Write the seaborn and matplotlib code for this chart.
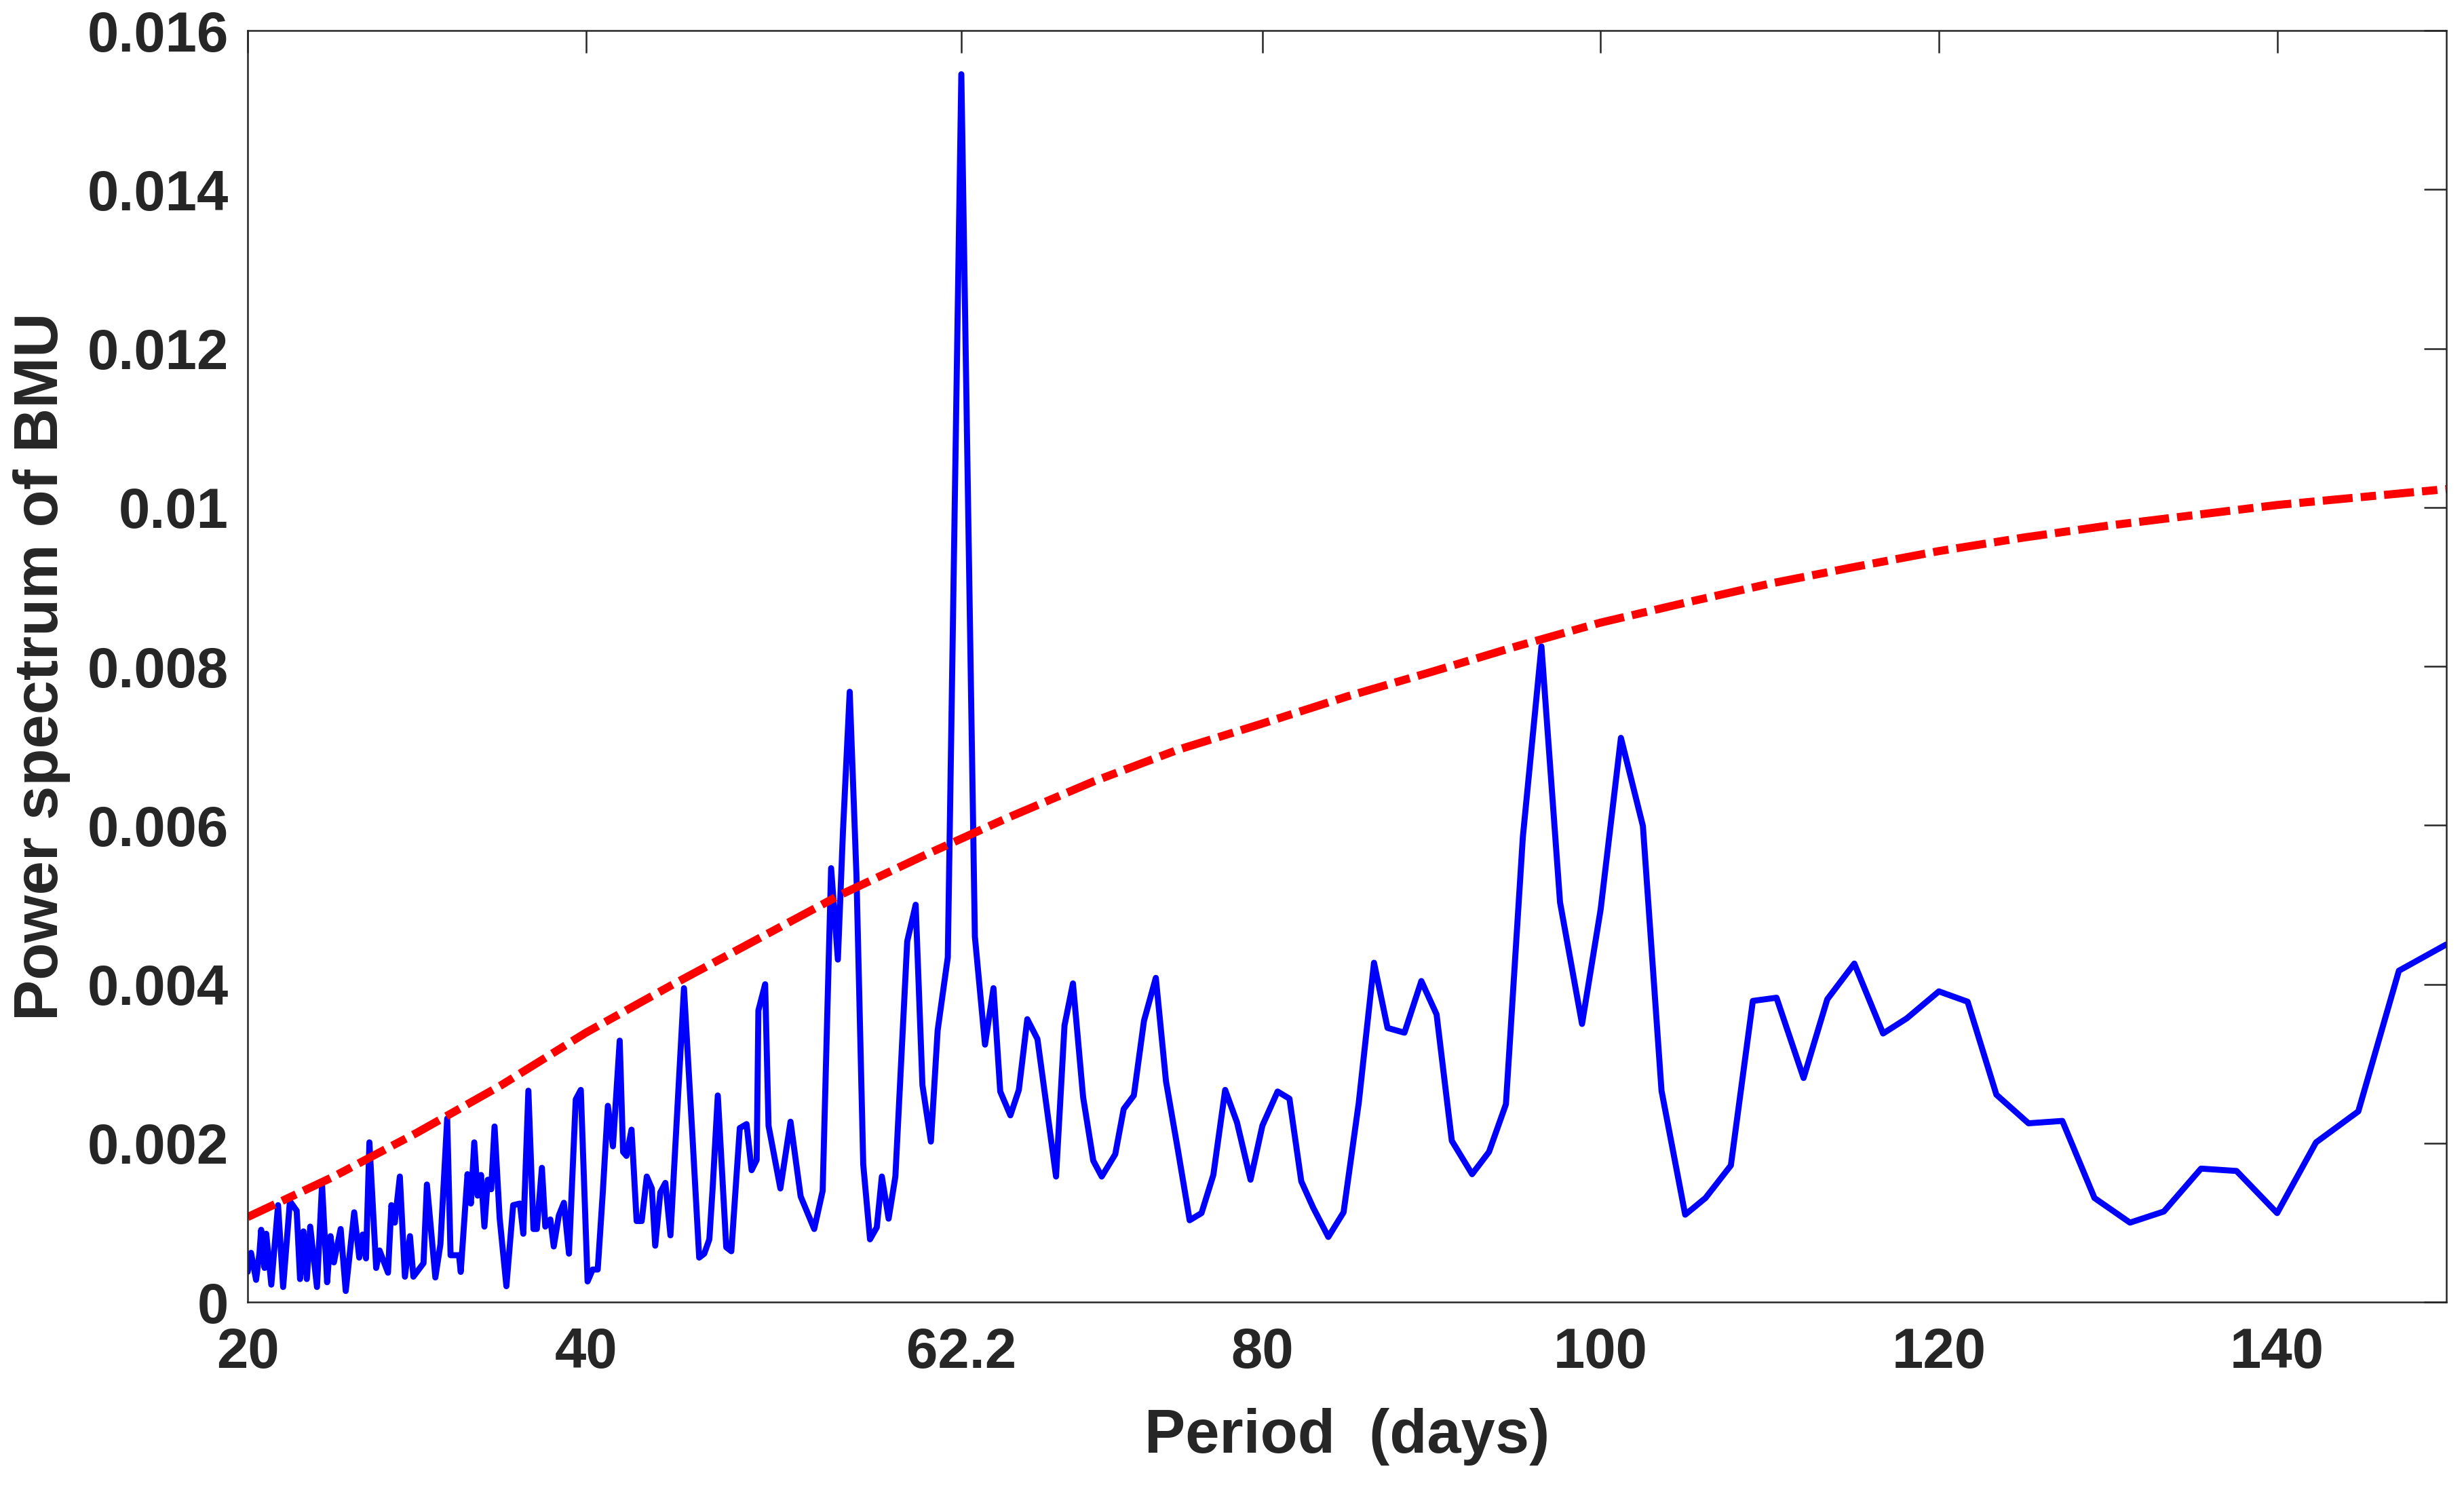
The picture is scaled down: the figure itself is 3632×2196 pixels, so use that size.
import numpy as np
import pandas as pd
import matplotlib
matplotlib.use("Agg")
import matplotlib.pyplot as plt
from matplotlib.ticker import FuncFormatter
import seaborn as sns

# periodogram of BMU (period in days, power in 1e-3)
period = [
    20.0, 20.2, 20.5, 20.7, 20.8, 21.0, 21.1, 21.4, 21.8, 22.1, 22.5, 22.9,
    23.1, 23.3, 23.5, 23.7, 24.1, 24.4, 24.7, 24.9, 25.1, 25.5, 25.8, 26.3,
    26.6, 26.8, 27.0, 27.2, 27.6, 27.8, 28.3, 28.5, 28.7, 29.0, 29.3, 29.6,
    29.8, 30.4, 30.6, 31.1, 31.4, 31.8, 32.0, 32.5, 32.6, 33.0, 33.2, 33.4,
    33.6, 33.8, 34.0, 34.2, 34.4, 34.6, 34.9, 35.3, 35.7, 36.1, 36.3, 36.6,
    36.9, 37.1, 37.4, 37.6, 37.9, 38.1, 38.4, 38.7, 39.0, 39.4, 39.7, 40.1,
    40.4, 40.7, 41.0, 41.3, 41.6, 42.0, 42.2, 42.4, 42.7, 43.0, 43.3, 43.6,
    43.9, 44.1, 44.4, 44.7, 45.0, 45.4, 45.8, 46.3, 46.7, 47.0, 47.3, 47.5,
    47.8, 48.1, 48.3, 48.6, 49.1, 49.5, 49.8, 50.1, 50.2, 50.6, 50.8, 51.5,
    52.1, 52.7, 53.5, 54.0, 54.5, 54.9, 55.2, 55.6, 56.0, 56.4, 56.8, 57.2,
    57.5, 57.9, 58.3, 59.0, 59.5, 59.9, 60.4, 60.8, 61.4, 62.2, 63.0, 63.6,
    64.1, 64.5, 65.1, 65.6, 66.1, 66.7, 67.8, 68.3, 68.8, 69.4, 70.0, 70.5,
    71.3, 71.8, 72.4, 73.0, 73.7, 74.3, 75.0, 75.7, 76.4, 77.1, 77.8, 78.5,
    79.3, 80.0, 80.9, 81.6, 82.3, 83.0, 83.9, 84.8, 85.7, 86.6, 87.4, 88.4,
    89.4, 90.3, 91.2, 92.4, 93.4, 94.4, 95.4, 96.5, 97.6, 98.9, 100.0, 101.2,
    102.5, 103.6, 105.0, 106.2, 107.7, 109.0, 110.4, 112.0, 113.4, 115.0, 116.7, 118.1,
    120.0, 121.7, 123.4, 125.3, 127.3, 129.2, 131.3, 133.3, 135.5, 137.6, 140.0, 142.3,
    144.8, 147.2, 150.0,
]
power = [
    0.38, 0.62, 0.28, 0.62, 0.91, 0.43, 0.86, 0.22, 1.22, 0.19, 1.27, 1.15,
    0.29, 0.89, 0.29, 0.95, 0.19, 1.48, 0.25, 0.83, 0.50, 0.92, 0.14, 1.13,
    0.56, 0.85, 0.55, 2.01, 0.43, 0.65, 0.37, 1.22, 1.00, 1.58, 0.32, 0.83,
    0.32, 0.49, 1.48, 0.31, 0.73, 2.31, 0.59, 0.59, 0.38, 1.61, 1.24, 2.01,
    1.34, 1.60, 0.95, 1.54, 1.42, 2.21, 1.06, 0.20, 1.22, 1.24, 0.86, 2.66,
    0.92, 0.92, 1.69, 0.95, 1.04, 0.70, 1.09, 1.25, 0.61, 2.55, 2.67, 0.26,
    0.41, 0.41, 1.38, 2.47, 1.96, 3.29, 1.89, 1.84, 2.17, 1.02, 1.02, 1.58,
    1.43, 0.71, 1.38, 1.50, 0.84, 2.40, 3.95, 2.09, 0.56, 0.61, 0.79, 1.45,
    2.60, 1.45, 0.69, 0.64, 2.19, 2.24, 1.66, 1.79, 3.67, 4.00, 2.22, 1.43,
    2.27, 1.33, 0.92, 1.40, 5.46, 4.31, 5.92, 7.68, 5.36, 1.73, 0.79, 0.94,
    1.58, 1.05, 1.58, 4.54, 5.00, 2.73, 2.02, 3.42, 4.34, 15.45, 4.60, 3.24,
    3.95, 2.65, 2.35, 2.67, 3.56, 3.31, 1.58, 3.48, 4.01, 2.58, 1.78, 1.58,
    1.86, 2.43, 2.60, 3.54, 4.08, 2.78, 1.92, 1.03, 1.12, 1.60, 2.67, 2.26,
    1.54, 2.22, 2.65, 2.56, 1.52, 1.19, 0.82, 1.13, 2.51, 4.27, 3.45, 3.39,
    4.04, 3.62, 2.03, 1.61, 1.89, 2.49, 5.85, 8.25, 5.03, 3.50, 4.94, 7.10,
    5.99, 2.66, 1.10, 1.31, 1.72, 3.79, 3.83, 2.82, 3.81, 4.26, 3.38, 3.57,
    3.91, 3.78, 2.61, 2.25, 2.28, 1.31, 1.00, 1.14, 1.68, 1.65, 1.12, 2.01,
    2.40, 4.17, 4.50,
]

# red-noise significance curve (power in 1e-3)
sig_period = [20, 25, 30, 35, 40, 45, 50, 55, 60, 65, 70, 75, 80, 85,
              90, 95, 100, 105, 110, 115, 120, 125, 130, 135, 140, 145, 150]
sig_power = [1.07, 1.57, 2.13, 2.73, 3.39, 3.98, 4.55, 5.12, 5.62, 6.10, 6.55, 6.95, 7.28, 7.62,
             7.93, 8.25, 8.55, 8.80, 9.04, 9.25, 9.45, 9.62, 9.77, 9.90, 10.03, 10.13, 10.23]

xticks = [20, 40, 62.2, 80, 100, 120, 140]
xticklabels = ["20", "40", "62.2", "80", "100", "120", "140"]
yticks = [0, 0.002, 0.004, 0.006, 0.008, 0.01, 0.012, 0.014, 0.016]

spec = pd.DataFrame({"period": period, "power": np.array(power) * 1e-3})
sig = pd.DataFrame({"period": sig_period, "power": np.array(sig_power) * 1e-3})

sns.set_theme(style="white")
plt.rcParams["font.family"] = ["Liberation Sans", "DejaVu Sans"]
plt.rcParams["font.weight"] = "bold"

fig = plt.figure(figsize=(18.16, 10.98), dpi=200)
ax = fig.add_axes([0.1005, 0.1261, 0.8923, 0.8534])

sns.lineplot(data=spec, x="period", y="power", ax=ax, color="#0000ff",
             linewidth=3.2, estimator=None, sort=False)
sns.lineplot(data=sig, x="period", y="power", ax=ax, color="#ff0000",
             linewidth=4.3, estimator=None, sort=False)
ax.lines[-1].set_dashes((3.7, 1.0, 1.9, 1.0))

ax.set_xlim(20, 150)
ax.set_ylim(0, 0.016)
ax.set_xticks(xticks)
ax.set_xticklabels(xticklabels)
ax.set_yticks(yticks)
ax.yaxis.set_major_formatter(FuncFormatter(lambda v, p: "0" if v == 0 else f"{v:g}"))

ax.tick_params(axis="both", which="major", direction="in", length=12, width=0.9,
               color="#262626", labelcolor="#262626", labelsize=30, top=True, right=True)
ax.tick_params(axis="x", pad=13)
ax.tick_params(axis="y", pad=10)
for s in ax.spines.values():
    s.set_color("#262626")
    s.set_linewidth(0.9)
    s.set_visible(True)

ax.set_xlabel("Period  (days)", fontsize=32.5, fontweight="bold", color="#262626", labelpad=15)
ax.set_ylabel("Power spectrum of BMU", fontsize=32.5, fontweight="bold", color="#262626", labelpad=9)
ax.grid(False)

fig.savefig("out.png", dpi=200, facecolor="white")
